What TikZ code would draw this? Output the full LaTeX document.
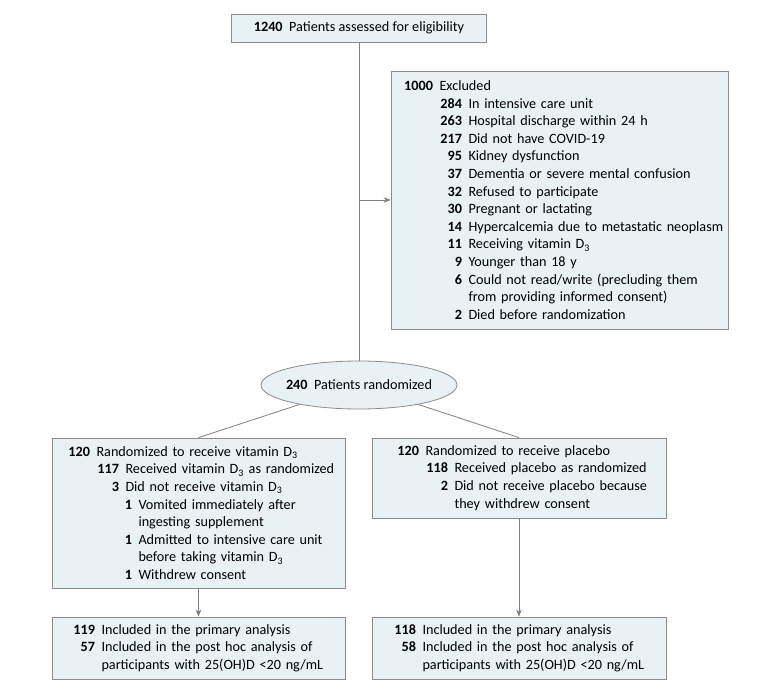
\documentclass[tikz,border=0pt]{standalone}
\usepackage{fontspec}
\setmainfont{Carlito}
\usetikzlibrary{arrows.meta,positioning,shapes.geometric}

\definecolor{boxfill}{HTML}{E8F1F4}
\definecolor{boxline}{HTML}{8C8C8C}
\definecolor{flowline}{HTML}{7F7F7F}

% one counted line: number right aligned in a box, then its text
\newcommand{\nrow}[3]{\mbox{\makebox[#1][r]{\bfseries #2}\hspace{6.5pt}#3}}
\newcommand{\Dthree}{D\textsubscript{3}}

\begin{document}
\begin{tikzpicture}[x=1pt,y=-1pt,>={Stealth[length=7pt,width=5.5pt]},
    every node/.style={font=\fontsize{14.2}{17.6}\selectfont},
    box/.style={draw=boxline,fill=boxfill,line width=0.8pt,rectangle,align=left,inner ysep=0pt},
    flow/.style={draw=flowline,line width=0.8pt}]

\useasboundingbox (0,0) rectangle (780,692);

\node[box,align=center,minimum width=255pt,minimum height=28pt] (assess) at (359,28)
    {\textbf{1240}\hspace{6.5pt}Patients assessed for eligibility};

\node[box,minimum width=337pt,minimum height=258pt,text width=315pt,inner xsep=11pt] (excl) at (559.5,200)
    {\nrow{31pt}{1000}{Excluded}\\
     \nrow{60pt}{284}{In intensive care unit}\\
     \nrow{60pt}{263}{Hospital discharge within 24 h}\\
     \nrow{60pt}{217}{Did not have COVID-19}\\
     \nrow{60pt}{95}{Kidney dysfunction}\\
     \nrow{60pt}{37}{Dementia or severe mental confusion}\\
     \nrow{60pt}{32}{Refused to participate}\\
     \nrow{60pt}{30}{Pregnant or lactating}\\
     \nrow{60pt}{14}{Hypercalcemia due to metastatic neoplasm}\\
     \nrow{60pt}{11}{Receiving vitamin \Dthree}\\
     \nrow{60pt}{9}{Younger than 18 y}\\
     \nrow{60pt}{6}{Could not read/write (precluding them}\\
     \nrow{60pt}{}{from providing informed consent)}\\
     \nrow{60pt}{2}{Died before randomization}};

\node[ellipse,draw=boxline,fill=boxfill,line width=0.8pt,inner sep=0pt,minimum width=196pt,minimum height=48pt] (rand) at (359,385)
    {\makebox[0pt]{\textbf{240}\hspace{6.5pt}Patients randomized}};

% the two arms
\node[box,minimum width=293pt,minimum height=150pt,text width=263pt,inner xsep=15pt] (vitd) at (198.5,513)
    {\nrow{23pt}{120}{Randomized to receive vitamin \Dthree}\\
     \nrow{52pt}{117}{Received vitamin \Dthree{} as randomized}\\
     \nrow{52pt}{3}{Did not receive vitamin \Dthree}\\
     \nrow{65pt}{1}{Vomited immediately after}\\
     \nrow{65pt}{}{ingesting supplement}\\
     \nrow{65pt}{1}{Admitted to intensive care unit}\\
     \nrow{65pt}{}{before taking vitamin \Dthree}\\
     \nrow{65pt}{1}{Withdrew consent}};

\node[box,minimum width=294pt,minimum height=80pt,text width=246pt,inner xsep=24pt] (plac) at (519,478)
    {\nrow{23pt}{120}{Randomized to receive placebo}\\
     \nrow{52pt}{118}{Received placebo as randomized}\\
     \nrow{52pt}{2}{Did not receive placebo because}\\
     \nrow{52pt}{}{they withdrew consent}};

\node[box,minimum width=293pt,minimum height=62pt,text width=253pt,inner xsep=20pt] (vitdan) at (198.5,648)
    {\nrow{23pt}{119}{Included in the primary analysis}\\
     \nrow{23pt}{57}{Included in the post hoc analysis of}\\
     \nrow{23pt}{}{participants with 25(OH)D <20 ng/mL}};

\node[box,minimum width=294pt,minimum height=62pt,text width=252pt,inner xsep=21pt] (placan) at (519,648)
    {\nrow{23pt}{118}{Included in the primary analysis}\\
     \nrow{23pt}{58}{Included in the post hoc analysis of}\\
     \nrow{23pt}{}{participants with 25(OH)D <20 ng/mL}};

\coordinate (tap) at (assess.south |- excl.west);

\draw[flow] (assess) -- (rand);
\draw[flow,->] (tap) -- (excl);
\draw[flow] (rand) -- (vitd.north);
\draw[flow] (rand) -- (plac.north);
\draw[flow,->] (vitd) -- (vitdan);
\draw[flow,->] (plac) -- (placan);

\end{tikzpicture}
\end{document}
